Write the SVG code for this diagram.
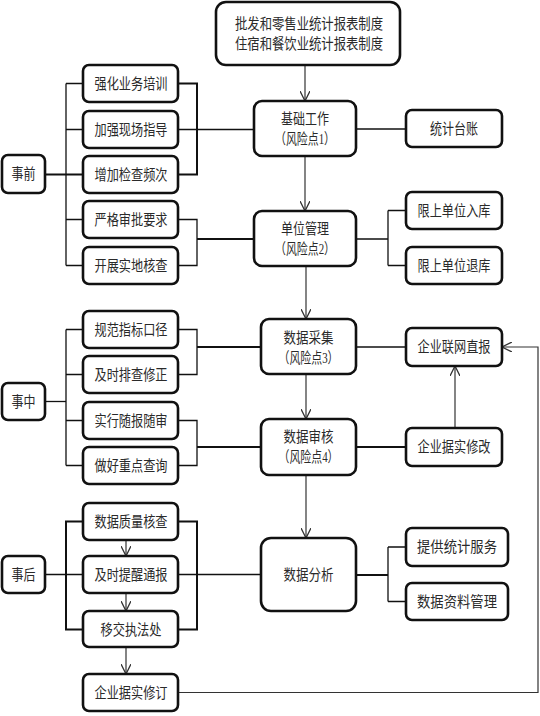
<svg xmlns="http://www.w3.org/2000/svg" width="540" height="716" viewBox="0 0 540 716">
<defs>
<style>
.box{fill:#fff;stroke:#111;stroke-width:2.6}
.t{font-family:"Liberation Serif","Noto Sans CJK SC",serif;font-size:15px;fill:#2a2a2a;text-anchor:middle;dominant-baseline:central}
.c{fill:none;stroke:#111;stroke-width:1.3}
.ck{fill:none;stroke:#111;stroke-width:2}
.a{fill:none;stroke:#333;stroke-width:1.2;marker-end:url(#arr)}
</style>
<marker id="arr" viewBox="0 0 10 10" refX="10" refY="5" markerWidth="10" markerHeight="10" markerUnits="userSpaceOnUse" orient="auto">
<path d="M0,0 L10,5 L0,10" fill="none" stroke="#333" stroke-width="1.3"/>
</marker>
</defs>
<rect width="540" height="716" fill="#fff"/>

<g id="connectors">
<!-- main flow -->
<line class="a" x1="305" y1="65" x2="305" y2="101"/>
<line class="a" x1="305" y1="156" x2="305" y2="211"/>
<line class="a" x1="306" y1="266" x2="306" y2="319"/>
<line class="a" x1="306" y1="374" x2="306" y2="419"/>
<line class="a" x1="306" y1="475" x2="306" y2="538"/>
<!-- right side -->
<line class="c" x1="356" y1="129" x2="406" y2="129"/>
<path class="c" d="M356,239 H388 M388,210.5 V265.5 M388,210.5 H406 M388,265.5 H406"/>
<line class="c" x1="356" y1="347" x2="406" y2="347"/>
<line class="ck" x1="356" y1="447" x2="406" y2="447"/>
<line class="a" x1="455" y1="428" x2="455" y2="366"/>
<path class="ck" d="M356,575 H388"/>
<path class="c" d="M388,547 V601.5 M388,547 H406 M388,601.5 H406"/>
<path class="a" d="M178,692.5 H538 V347 H502"/>
<!-- 事前 -->
<path class="c" d="M66,83.5 V265.5 M66,83.5 H83 M66,129.5 H83 M66,219.5 H83 M66,265.5 H83"/>
<line class="ck" x1="45" y1="174.5" x2="83" y2="174.5"/>
<path class="ck" d="M178,83.5 H197 V174.5 H178"/>
<line class="c" x1="178" y1="129.5" x2="254" y2="129.5"/>
<path class="c" d="M178,219.5 H197 V265.5 H178"/>
<line class="ck" x1="197" y1="239" x2="254" y2="239"/>
<!-- 事中 -->
<path class="c" d="M66,329.5 V465.5 M66,329.5 H83 M66,374.5 H83 M66,420.5 H83 M66,465.5 H83"/>
<line class="c" x1="45" y1="401.5" x2="66" y2="401.5"/>
<path class="c" d="M178,329.5 H197 V374.5 H178"/>
<line class="ck" x1="197" y1="347" x2="261" y2="347"/>
<path class="c" d="M178,420.5 H197 V465.5 H178"/>
<line class="ck" x1="197" y1="447" x2="261" y2="447"/>
<!-- 事后 -->
<path class="ck" d="M83,521.5 H66 V629.5 H83"/>
<line class="c" x1="45" y1="574.5" x2="83" y2="574.5"/>
<path class="ck" d="M178,521.5 H197 V629.5 H178"/>
<line class="c" x1="178" y1="574.5" x2="261" y2="574.5"/>
<line class="a" x1="126" y1="540" x2="126" y2="556"/>
<line class="a" x1="126" y1="593" x2="126" y2="611"/>
<line class="a" x1="126" y1="647" x2="126" y2="674"/>
</g>

<g id="n-top"><rect class="box" x="216" y="2" width="184" height="63" rx="10"/>
<text class="t" x="309" y="24" textLength="148" lengthAdjust="spacingAndGlyphs">批发和零售业统计报表制度</text>
<text class="t" x="309" y="44" textLength="148" lengthAdjust="spacingAndGlyphs">住宿和餐饮业统计报表制度</text></g>

<g id="n-jichu"><rect class="box" x="254" y="101" width="102" height="55" rx="8"/>
<text class="t" x="305" y="119" textLength="48" lengthAdjust="spacingAndGlyphs">基础工作</text>
<text class="t" x="305" y="139" textLength="60" lengthAdjust="spacingAndGlyphs">（风险点1）</text></g>

<g id="n-tongji"><rect class="box" x="406" y="110" width="96" height="37" rx="6"/>
<text class="t" x="454" y="128.5" textLength="48" lengthAdjust="spacingAndGlyphs">统计台账</text></g>

<g id="n-danwei"><rect class="box" x="254" y="211" width="102" height="55" rx="8"/>
<text class="t" x="305" y="229" textLength="48" lengthAdjust="spacingAndGlyphs">单位管理</text>
<text class="t" x="305" y="249" textLength="60" lengthAdjust="spacingAndGlyphs">（风险点2）</text></g>

<g id="n-ruku"><rect class="box" x="406" y="192" width="96" height="37" rx="6"/>
<text class="t" x="454" y="210.5" textLength="73" lengthAdjust="spacingAndGlyphs">限上单位入库</text></g>

<g id="n-tuiku"><rect class="box" x="406" y="247" width="96" height="37" rx="6"/>
<text class="t" x="454" y="265.5" textLength="73" lengthAdjust="spacingAndGlyphs">限上单位退库</text></g>

<g id="n-caiji"><rect class="box" x="261" y="319" width="95" height="55" rx="8"/>
<text class="t" x="308.5" y="338" textLength="50" lengthAdjust="spacingAndGlyphs">数据采集</text>
<text class="t" x="308.5" y="358" textLength="60" lengthAdjust="spacingAndGlyphs">（风险点3）</text></g>

<g id="n-shenhe"><rect class="box" x="261" y="419" width="95" height="56" rx="8"/>
<text class="t" x="308.5" y="437" textLength="50" lengthAdjust="spacingAndGlyphs">数据审核</text>
<text class="t" x="308.5" y="457" textLength="60" lengthAdjust="spacingAndGlyphs">（风险点4）</text></g>

<g id="n-fenxi"><rect class="box" x="261" y="538" width="95" height="73" rx="10"/>
<text class="t" x="308.5" y="574.5" textLength="50" lengthAdjust="spacingAndGlyphs">数据分析</text></g>

<g id="n-lianwang"><rect class="box" x="406" y="328" width="96" height="38" rx="6"/>
<text class="t" x="454" y="347" textLength="73" lengthAdjust="spacingAndGlyphs">企业联网直报</text></g>

<g id="n-xiugai"><rect class="box" x="406" y="428" width="96" height="38" rx="6"/>
<text class="t" x="454" y="447" textLength="73" lengthAdjust="spacingAndGlyphs">企业据实修改</text></g>

<g id="n-fuwu"><rect class="box" x="406" y="528" width="102" height="38" rx="6"/>
<text class="t" x="457" y="547" textLength="80" lengthAdjust="spacingAndGlyphs">提供统计服务</text></g>

<g id="n-ziliao"><rect class="box" x="406" y="583" width="102" height="37" rx="6"/>
<text class="t" x="457" y="601.5" textLength="80" lengthAdjust="spacingAndGlyphs">数据资料管理</text></g>

<g id="n-shiqian"><rect class="box" x="2" y="155" width="43" height="38" rx="6"/>
<text class="t" x="23.5" y="174" textLength="24" lengthAdjust="spacingAndGlyphs">事前</text></g>

<g id="n-shizhong"><rect class="box" x="2" y="383" width="43" height="37" rx="6"/>
<text class="t" x="23.5" y="401.5" textLength="24" lengthAdjust="spacingAndGlyphs">事中</text></g>

<g id="n-shihou"><rect class="box" x="2" y="556" width="43" height="37" rx="6"/>
<text class="t" x="23.5" y="574.5" textLength="24" lengthAdjust="spacingAndGlyphs">事后</text></g>

<g id="n-a1"><rect class="box" x="83" y="65" width="95" height="37" rx="6"/>
<text class="t" x="131" y="83.5" textLength="73" lengthAdjust="spacingAndGlyphs">强化业务培训</text></g>
<g id="n-a2"><rect class="box" x="83" y="111" width="95" height="37" rx="6"/>
<text class="t" x="131" y="129.5" textLength="73" lengthAdjust="spacingAndGlyphs">加强现场指导</text></g>
<g id="n-a3"><rect class="box" x="83" y="156" width="95" height="37" rx="6"/>
<text class="t" x="131" y="174.5" textLength="73" lengthAdjust="spacingAndGlyphs">增加检查频次</text></g>
<g id="n-a4"><rect class="box" x="83" y="201" width="95" height="37" rx="6"/>
<text class="t" x="131" y="219.5" textLength="73" lengthAdjust="spacingAndGlyphs">严格审批要求</text></g>
<g id="n-a5"><rect class="box" x="83" y="247" width="95" height="37" rx="6"/>
<text class="t" x="131" y="265.5" textLength="73" lengthAdjust="spacingAndGlyphs">开展实地核查</text></g>

<g id="n-b1"><rect class="box" x="83" y="311" width="95" height="37" rx="6"/>
<text class="t" x="131" y="329.5" textLength="73" lengthAdjust="spacingAndGlyphs">规范指标口径</text></g>
<g id="n-b2"><rect class="box" x="83" y="356" width="95" height="37" rx="6"/>
<text class="t" x="131" y="374.5" textLength="73" lengthAdjust="spacingAndGlyphs">及时排查修正</text></g>
<g id="n-b3"><rect class="box" x="83" y="402" width="95" height="37" rx="6"/>
<text class="t" x="131" y="420.5" textLength="73" lengthAdjust="spacingAndGlyphs">实行随报随审</text></g>
<g id="n-b4"><rect class="box" x="83" y="447" width="95" height="37" rx="6"/>
<text class="t" x="131" y="465.5" textLength="73" lengthAdjust="spacingAndGlyphs">做好重点查询</text></g>

<g id="n-c1"><rect class="box" x="83" y="503" width="95" height="37" rx="6"/>
<text class="t" x="131" y="521.5" textLength="73" lengthAdjust="spacingAndGlyphs">数据质量核查</text></g>
<g id="n-c2"><rect class="box" x="83" y="556" width="95" height="37" rx="6"/>
<text class="t" x="131" y="574.5" textLength="73" lengthAdjust="spacingAndGlyphs">及时提醒通报</text></g>
<g id="n-c3"><rect class="box" x="83" y="611" width="95" height="36" rx="6"/>
<text class="t" x="131" y="629.5" textLength="61" lengthAdjust="spacingAndGlyphs">移交执法处</text></g>
<g id="n-c4"><rect class="box" x="83" y="674" width="95" height="37" rx="6"/>
<text class="t" x="131" y="692.5" textLength="73" lengthAdjust="spacingAndGlyphs">企业据实修订</text></g>
</svg>
